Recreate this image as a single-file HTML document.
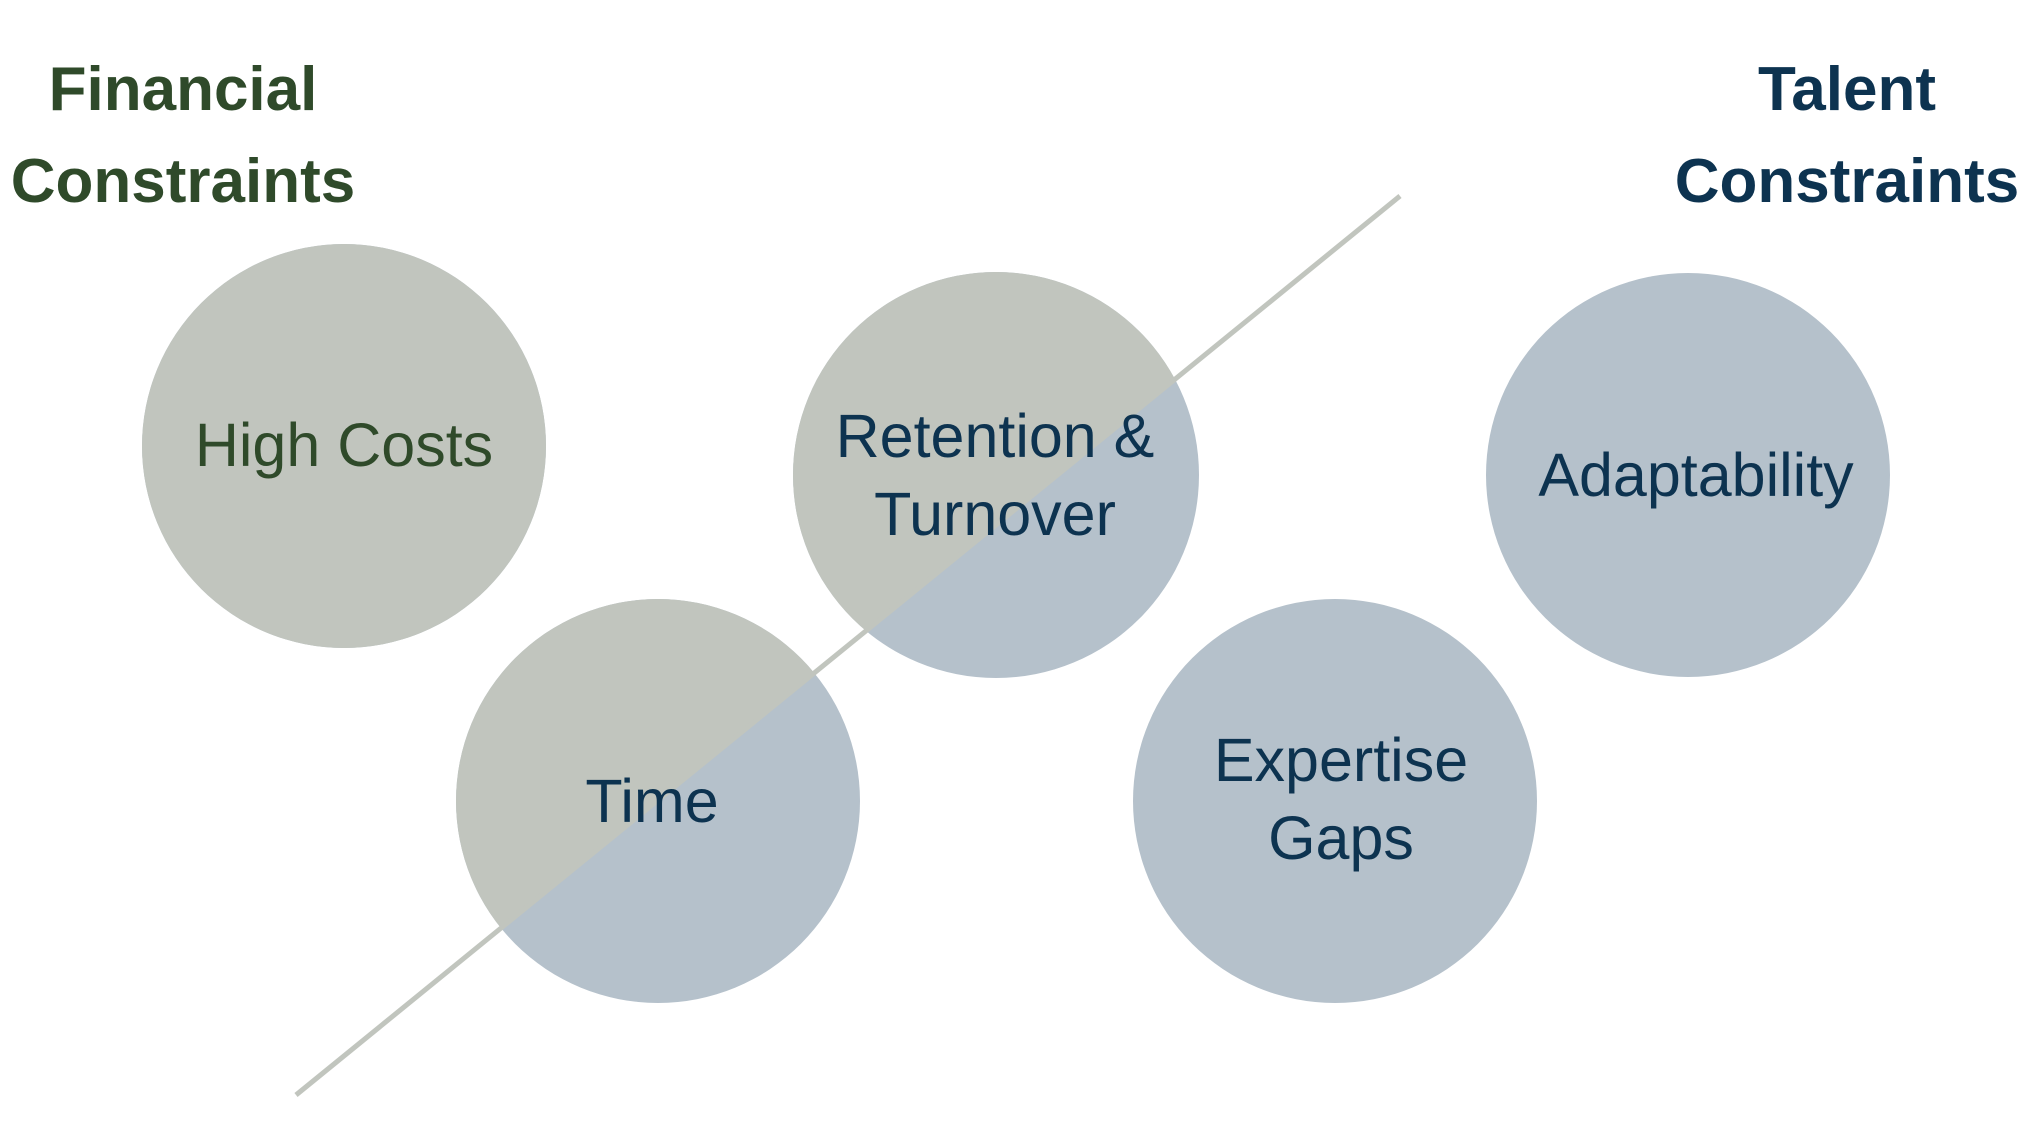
<!DOCTYPE html>
<html><head><meta charset="utf-8"><style>
html,body{margin:0;padding:0;background:#fff;width:2034px;height:1144px;overflow:hidden}
</style></head><body>
<svg width="2034" height="1144" viewBox="0 0 2034 1144" xmlns="http://www.w3.org/2000/svg">
<defs><clipPath id="ul"><polygon points="-100,1417 2200,-455 -100,-455"/></clipPath></defs>
<g fill="#b5c1cb">
<circle cx="344" cy="446" r="202"/>
<circle cx="996" cy="475" r="203"/>
<circle cx="658" cy="801" r="202"/>
<circle cx="1335" cy="801" r="202"/>
<circle cx="1688" cy="475" r="202"/>
</g>
<g fill="#c1c5be" clip-path="url(#ul)">
<circle cx="344" cy="446" r="202"/>
<circle cx="996" cy="475" r="203"/>
<circle cx="658" cy="801" r="202"/>
</g>
<line x1="296" y1="1095" x2="1400" y2="196" stroke="#c1c5be" stroke-width="5"/>
<g font-family="Liberation Sans, sans-serif" text-anchor="middle">
<g font-weight="bold" font-size="62">
<text x="183" y="110" fill="#2f4a2a">Financial</text>
<text x="183" y="202" fill="#2f4a2a">Constraints</text>
<text x="1847" y="110" fill="#0d3350">Talent</text>
<text x="1847" y="202" fill="#0d3350">Constraints</text>
</g>
<g font-size="61">
<text x="344" y="466" fill="#2f4a2a">High Costs</text>
<text x="995" y="457" fill="#0d3350">Retention &amp;</text>
<text x="995" y="535" fill="#0d3350">Turnover</text>
<text x="652" y="822" fill="#0d3350">Time</text>
<text x="1341" y="781" fill="#0d3350">Expertise</text>
<text x="1341" y="859" fill="#0d3350">Gaps</text>
<text x="1696" y="496" fill="#0d3350">Adaptability</text>
</g>
</g>
</svg>
</body></html>
